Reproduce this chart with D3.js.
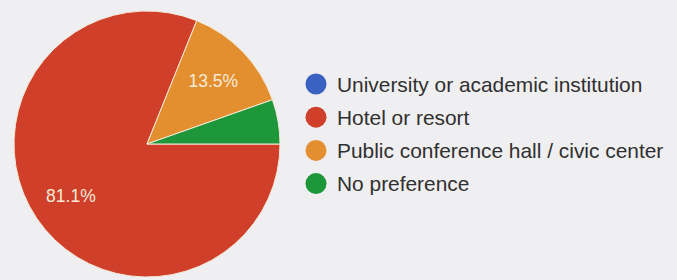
<!DOCTYPE html>
<html>
<head>
<meta charset="utf-8">
<script src="https://cdn.jsdelivr.net/npm/d3@7"></script>
<style>
  body { margin: 0; background: #efeef0; }
  svg { display: block; }
</style>
</head>
<body>
<svg id="chart" width="677" height="280"></svg>
<script>
// categories + values
var categories = ["University or academic institution", "Hotel or resort", "Public conference hall / civic center", "No preference"]
var values = [0, 81.1, 13.5, 5.4]
var colors = ["#3a62c3", "#cf3f2a", "#e38e2f", "#1e963a"]

var width = 677, height = 280
var cx = 147, cy = 144, radius = 133

var svg = d3.select("#chart")

svg.append("rect")
    .attr("width", width)
    .attr("height", height)
    .attr("fill", "#efeef0")

var color = d3.scaleOrdinal().domain(categories).range(colors)

// pie starts at 3 o'clock and runs clockwise
var pie = d3.pie()
    .value(function(d) { return d.value })
    .sort(null)
    .startAngle(Math.PI / 2)
    .endAngle(Math.PI / 2 + 2 * Math.PI)

var data = categories.map(function(name, i) { return {name: name, value: values[i]} })
var arcs = pie(data)

var arc = d3.arc().innerRadius(0).outerRadius(radius)
var labelArc = d3.arc().innerRadius(radius * 0.69).outerRadius(radius * 0.69)

var g = svg.append("g")
    .attr("transform", "translate(" + cx + "," + cy + ")")

g.selectAll(".slice")
    .data(arcs.filter(function(d) { return d.data.value > 0 }))
  .enter().append("path")
    .attr("class", "slice")
    .attr("d", arc)
    .attr("fill", function(d) { return color(d.data.name) })
    .attr("stroke", "#f4ead8")
    .attr("stroke-width", 1)

var total = d3.sum(values)

g.selectAll(".pct")
    .data(arcs.filter(function(d) { return d.data.value / total > 0.08 }))
  .enter().append("text")
    .attr("class", "pct")
    .attr("transform", function(d) { return "translate(" + labelArc.centroid(d) + ")" })
    .attr("text-anchor", "middle")
    .attr("dy", "0.36em")
    .attr("font-family", "Liberation Sans, Arial, sans-serif")
    .attr("font-size", 17.5)
    .attr("fill", "#f6ead8")
    .text(function(d) { return (d.data.value / total * 100).toFixed(1) + "%" })

// legend
var legend = svg.append("g")
    .attr("transform", "translate(316,84)")

var rows = legend.selectAll(".row")
    .data(categories)
  .enter().append("g")
    .attr("class", "row")
    .attr("transform", function(d, i) { return "translate(0," + (i * 33.2) + ")" })

rows.append("circle")
    .attr("r", 10.5)
    .attr("fill", function(d) { return color(d) })

rows.append("text")
    .attr("x", 21)
    .attr("dy", "0.36em")
    .attr("font-family", "Liberation Sans, Arial, sans-serif")
    .attr("font-size", 20.9)
    .attr("fill", "#303030")
    .text(function(d) { return d })
</script>
</body>
</html>
